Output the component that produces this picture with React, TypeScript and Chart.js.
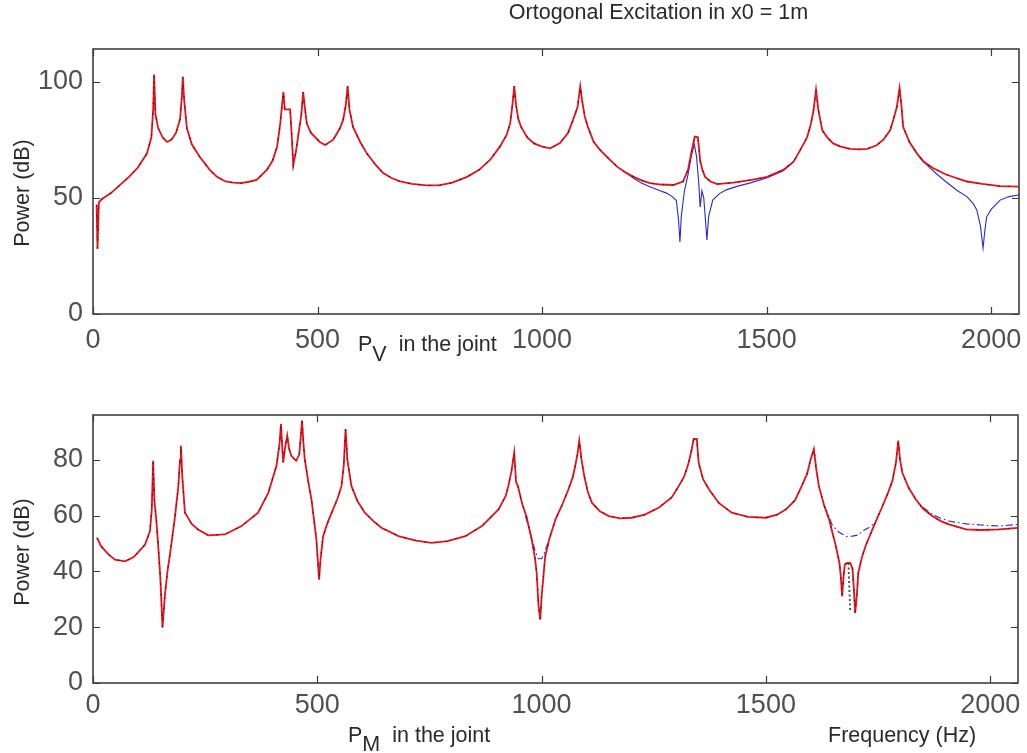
import React, { useEffect, useRef } from "react";
import { Chart, registerables } from "chart.js";

Chart.register(...registerables);

// ---- axis ticks ----
const FREQ_TICKS = [0, 500, 1000, 1500, 2000];
const PV_TICKS = [0, 50, 100];
const PM_TICKS = [0, 20, 40, 60, 80];

// ---- P_V in the joint (upper panel), solid red trace ----
const pvFreq = [
  8, 10, 13, 20, 40, 80, 100, 120, 130, 134, 136, 139, 145, 155, 165, 175, 185, 194, 198, 200,
  203, 209, 220, 238, 260, 276, 295, 312, 330, 350, 365, 387, 400, 410, 417, 421, 424, 427, 433, 439,
  443, 446, 452, 458, 464, 468, 471, 476, 485, 505, 517, 535, 550, 557, 563, 567, 571, 579, 595, 610,
  630, 646, 665, 684, 710, 743, 770, 800, 833, 860, 885, 906, 921, 929, 934, 938, 942, 947, 953, 967,
  982, 1000, 1018, 1040, 1058, 1069, 1079, 1085, 1089, 1095, 1102, 1115, 1129, 1150, 1167, 1185, 1203, 1220, 1240, 1265,
  1292, 1314, 1325, 1333, 1340, 1347, 1352, 1357, 1363, 1375, 1390, 1426, 1470, 1501, 1537, 1560, 1575, 1590, 1597, 1604,
  1610, 1615, 1624, 1635, 1648, 1665, 1686, 1705, 1724, 1745, 1760, 1775, 1782, 1790, 1796, 1800, 1804, 1818, 1835, 1850,
  1871, 1900, 1925, 1946, 1980, 2020, 2062,
];
const pvPower = [
  47, 28, 48, 49.5, 52, 59, 63, 69, 76, 88, 103, 86, 80, 76, 74, 75, 78, 84, 94, 102,
  92, 80, 73, 67.5, 62, 59, 57, 56.5, 56.3, 57, 57.8, 62, 66, 72, 82, 90, 95.5, 88, 88, 88,
  75, 64, 70, 78, 86, 95.5, 90, 82, 78, 74, 72.7, 75, 80, 83.5, 90, 98, 88, 80.5, 74, 69,
  64, 60.6, 58.5, 57, 56, 55.3, 55.3, 56.5, 59, 62, 66.5, 72, 77, 82, 90, 98, 90, 84, 80.6, 76,
  73.4, 72, 71.3, 73.5, 78, 83.5, 89, 98, 92, 85, 80.5, 74, 70.6, 66.5, 63.4, 61, 59.1, 57.6, 56.3, 55.7,
  55.5, 57, 62, 70, 76.3, 76, 66, 62, 59, 57, 55.9, 56.5, 57.8, 59, 62, 65.5, 70.6, 76, 80.5, 87,
  96.4, 88, 79, 76, 73.4, 72, 71, 70.8, 71, 72.6, 75, 79, 83.5, 89, 97.2, 90, 80.5, 74, 69, 65.5,
  62.7, 60, 58.3, 57, 56, 55, 54.8,
];

// ---- P_V, thin blue trace (where it leaves the red one) ----
const pvBlueFreq = [
  1185, 1203, 1220, 1240, 1260, 1277, 1290, 1299, 1304, 1307, 1310, 1317, 1325, 1332, 1339, 1344, 1349, 1352, 1356, 1360,
  1364, 1367, 1371, 1380, 1395, 1410, 1436, 1462, 1500, 1537, 1560, 1700,
  1840, 1860, 1880, 1900, 1925, 1946, 1960, 1968, 1976, 1982, 1986, 1990, 2000, 2020, 2040, 2062,
];
const pvBluePower = [
  61, 58.5, 56.5, 54.7, 53.2, 52, 50.5, 48.8, 40, 31, 42, 53, 60, 67.7, 73, 67.7, 56, 46, 53, 50,
  40, 31.8, 42, 49, 51.8, 53.4, 55, 56.3, 58.5, 61.6, 65.5, null,
  67.5, 63.5, 60, 56.8, 53, 50.5, 47.5, 44.8, 38, 28.4, 36, 41.8, 45, 49, 50.5, 51.2,
];

// ---- P_M in the joint (lower panel), solid red trace ----
const pmFreq = [
  9, 18, 35, 49, 71, 90, 100, 116, 127, 131, 134, 137, 141, 145, 150, 155, 160, 166, 171, 182,
  190, 194, 196, 199, 205, 220, 234, 257, 294, 331, 368, 391, 409, 416, 419, 422, 424, 428, 433, 437,
  442, 453, 460, 463, 466, 469, 472, 480, 487, 493, 498, 501, 504, 507, 513, 522, 532, 545, 554, 559,
  563, 567, 576, 590, 606, 625, 643, 681, 720, 755, 790, 830, 867, 904, 920, 926, 933, 939, 943, 947,
  957, 966, 978, 985, 989, 993, 997, 1000, 1004, 1008, 1018, 1031, 1045, 1060, 1070, 1075, 1080, 1084, 1089, 1095,
  1103, 1112, 1130, 1150, 1175, 1201, 1230, 1261, 1290, 1306, 1318, 1328, 1335, 1339, 1346, 1350, 1360, 1373, 1395, 1424,
  1460, 1500, 1525, 1545, 1565, 1580, 1592, 1600, 1607, 1612, 1618, 1630, 1641, 1656, 1664, 1667, 1670, 1673, 1676, 1682,
  1688, 1693, 1696, 1699, 1703, 1706, 1714, 1722, 1740, 1760, 1772, 1782, 1790, 1795, 1799, 1804, 1818, 1834, 1850, 1871,
  1890, 1908, 1946, 1980, 2020, 2062,
];
const pmPower = [
  52, 49, 46, 44.2, 43.6, 45, 46.7, 49.6, 54.4, 62, 79.6, 65, 58.6, 50, 38, 19.8, 31, 40, 45.4, 58.6,
  70, 80, 85, 74, 61, 57, 55, 52.9, 53.2, 56.2, 61, 68.2, 77.8, 86, 92.8, 84, 79, 84, 88.6, 84,
  81.4, 79.6, 82, 88, 94, 86, 80.2, 72, 65.8, 58, 51.4, 44, 37, 44, 52.6, 57, 61, 66, 70.6, 78,
  91, 80, 70.6, 65, 61, 58, 55.6, 52.6, 51, 50.2, 50.8, 52.6, 56.2, 62.2, 67, 70.6, 76, 82.6, 72, 70.6,
  64, 59.8, 51.4, 45, 39.5, 28, 22.7, 31, 38, 45.4, 52, 58.6, 63.5, 69.4, 74, 77.8, 82, 86.8, 80, 74.2,
  68.5, 64.6, 61.5, 59.8, 59, 59.2, 60.3, 62.8, 66.5, 70.6, 74, 79, 84, 87.4, 87.4, 79, 73, 69.4, 64.5, 61,
  59.5, 59.2, 60.3, 62.2, 65.5, 70.6, 75, 80.2, 83.8, 77, 70.6, 63.5, 58.6, 49, 43, 38, 31, 38, 42.5, 43,
  43, 41, 34, 25, 32, 39.5, 45, 49, 56, 63.4, 68, 72.4, 79, 86.8, 80, 75.4, 70, 65.8, 62.5, 59.8,
  58, 56.8, 55, 54.8, 55, 55.6,
];

// ---- P_M, blue dash-dot trace (where it leaves the red one) ----
const pmBlueFreq = [
  964, 978, 986, 993, 1000, 1006, 1018, 1300,
  1630, 1641, 1648, 1663, 1680, 1693, 1705, 1715, 1728, 1740, 1800,
  1850, 1871, 1890, 1908, 1946, 1980, 2020, 2062,
];
const pmBluePower = [
  59.8, 52, 47, 44.5, 44.5, 46.5, 52, null,
  63.5, 59.5, 56.5, 54, 52.5, 52.6, 53, 54.4, 55.5, 57, null,
  63, 60.4, 59, 58, 57, 56.6, 56.2, 56.8,
];

// ---- P_M, short green dotted drop near 1690 Hz ----
const pmGreenFreq = [1684, 1686, 1688];
const pmGreenPower = [43, 34, 26];

const FONT = "'Liberation Sans', Arial, Helvetica, sans-serif";
const RED = "#e3121c";
const BLUE = "#2a2ad0";

const pts = (xs: number[], ys: (number | null)[]) => xs.map((x, i) => ({ x, y: ys[i] }));

// Box around the plot area with MATLAB-style inward ticks on all four sides
const framePlugin = {
  id: "frameTicks",
  afterDatasetsDraw(chart: any) {
    const { ctx, chartArea: a, scales } = chart;
    const xs = scales.x;
    const ys = scales.y;
    const len = 7;
    ctx.save();
    ctx.strokeStyle = "#3a3a3a";
    ctx.lineWidth = 1.2;
    ctx.beginPath();
    xs.ticks.forEach((t: any) => {
      const px = Math.round(xs.getPixelForValue(t.value)) + 0.5;
      ctx.moveTo(px, a.bottom);
      ctx.lineTo(px, a.bottom - len);
      ctx.moveTo(px, a.top);
      ctx.lineTo(px, a.top + len);
    });
    ys.ticks.forEach((t: any) => {
      const py = Math.round(ys.getPixelForValue(t.value)) + 0.5;
      ctx.moveTo(a.left, py);
      ctx.lineTo(a.left + len, py);
      ctx.moveTo(a.right, py);
      ctx.lineTo(a.right - len, py);
    });
    ctx.stroke();
    ctx.lineWidth = 1.6;
    ctx.strokeStyle = "#404040";
    ctx.strokeRect(a.left, a.top, a.right - a.left, a.bottom - a.top);
    ctx.restore();
  },
};

type PanelProps = {
  top: number;
  height: number;
  padTop: number;
  padRight: number;
  xAxisHeight: number;
  xLabelPad: number;
  yMax: number;
  yTicks: number[];
  datasets: any[];
};

function Panel({ top, height, padTop, padRight, xAxisHeight, xLabelPad, yMax, yTicks, datasets }: PanelProps) {
  const ref = useRef<HTMLCanvasElement | null>(null);
  useEffect(() => {
    if (!ref.current) return;
    const chart = new Chart(ref.current, {
      type: "line",
      data: { datasets },
      plugins: [framePlugin],
      options: {
        responsive: false,
        animation: false,
        events: [],
        layout: { padding: { top: padTop, right: padRight, left: 0, bottom: 0 } },
        plugins: { legend: { display: false }, tooltip: { enabled: false }, title: { display: false } },
        elements: { point: { radius: 0 }, line: { tension: 0 } },
        scales: {
          x: {
            type: "linear",
            min: 0,
            max: 2062,
            afterBuildTicks: (s: any) => {
              s.ticks = FREQ_TICKS.map((v) => ({ value: v }));
            },
            afterFit: (s: any) => {
              s.height = xAxisHeight;
              s.paddingLeft = 0;
              s.paddingRight = 0;
            },
            grid: { display: false, drawTicks: false },
            border: { display: false },
            ticks: {
              autoSkip: false,
              maxRotation: 0,
              padding: xLabelPad,
              color: "#505050",
              font: { family: FONT, size: 27 },
              callback: (v: any) => String(v),
            },
          },
          y: {
            type: "linear",
            min: 0,
            max: yMax,
            afterBuildTicks: (s: any) => {
              s.ticks = yTicks.map((v) => ({ value: v }));
            },
            afterFit: (s: any) => {
              s.width = 93;
              s.paddingTop = 0;
              s.paddingBottom = 0;
            },
            grid: { display: false, drawTicks: false },
            border: { display: false },
            ticks: {
              padding: 10,
              color: "#505050",
              font: { family: FONT, size: 27 },
              callback: (v: any) => String(v),
            },
          },
        },
      },
    });
    return () => chart.destroy();
  }, []);
  return (
    <canvas
      ref={ref}
      width={1027}
      height={height}
      style={{ position: "absolute", left: 0, top, width: 1027, height }}
    />
  );
}

const LABEL_SIZE = 21.5;
const baselineTop = (b: number) => b - 0.8465 * LABEL_SIZE;

const labelStyle: React.CSSProperties = {
  position: "absolute",
  fontFamily: FONT,
  fontSize: LABEL_SIZE,
  lineHeight: 1,
  color: "#2a2a2a",
  whiteSpace: "pre",
};

export default function App() {
  const pvDatasets = [
    {
      label: "black",
      data: pts(pvFreq, pvPower),
      borderColor: "rgba(40,10,10,0.75)",
      borderWidth: 1.2,
      borderDash: [1.5, 9],
      order: 0,
    },
    { label: "red", data: pts(pvFreq, pvPower), borderColor: RED, borderWidth: 1.8, order: 1 },
    {
      label: "blue",
      data: pts(pvBlueFreq, pvBluePower),
      borderColor: BLUE,
      borderWidth: 1.1,
      spanGaps: false,
      order: 2,
    },
  ];
  const pmDatasets = [
    {
      label: "black",
      data: pts(pmFreq, pmPower),
      borderColor: "rgba(40,10,10,0.75)",
      borderWidth: 1.2,
      borderDash: [1.5, 9],
      order: 0,
    },
    {
      label: "green",
      data: pts(pmGreenFreq, pmGreenPower),
      borderColor: "#1f5f2a",
      borderWidth: 1.8,
      borderDash: [2, 2.5],
      order: 0,
    },
    { label: "red", data: pts(pmFreq, pmPower), borderColor: RED, borderWidth: 1.8, order: 1 },
    {
      label: "blue",
      data: pts(pmBlueFreq, pmBluePower),
      borderColor: BLUE,
      borderWidth: 1.1,
      borderDash: [7, 3, 1.5, 3],
      spanGaps: false,
      order: 2,
    },
  ];

  return (
    <div
      style={{
        position: "fixed",
        left: 0,
        top: 0,
        width: 1027,
        height: 753,
        background: "#ffffff",
        overflow: "hidden",
      }}
    >
      <Panel
        top={0}
        height={380}
        padTop={49}
        padRight={8}
        xAxisHeight={66}
        xLabelPad={10}
        yMax={114}
        yTicks={PV_TICKS}
        datasets={pvDatasets}
      />
      <Panel
        top={380}
        height={373}
        padTop={35}
        padRight={9}
        xAxisHeight={70}
        xLabelPad={6}
        yMax={96}
        yTicks={PM_TICKS}
        datasets={pmDatasets}
      />

      <div style={{ ...labelStyle, left: 658.5, top: baselineTop(20), transform: "translateX(-50%)" }}>
        Ortogonal Excitation in x0 = 1m
      </div>

      <div
        style={{
          ...labelStyle,
          left: 22.5,
          top: 193,
          transform: "translate(-50%, -50%) rotate(-90deg)",
        }}
      >
        Power (dB)
      </div>
      <div
        style={{
          ...labelStyle,
          left: 22.5,
          top: 552,
          transform: "translate(-50%, -50%) rotate(-90deg)",
        }}
      >
        Power (dB)
      </div>

      <div style={{ ...labelStyle, left: 358, top: baselineTop(352) }}>
        P<span style={{ position: "relative", top: 10 }}>V</span>
        {"  in the joint"}
      </div>
      <div style={{ ...labelStyle, left: 348, top: baselineTop(743) }}>
        P<span style={{ position: "relative", top: 9 }}>M</span>
        {"  in the joint"}
      </div>
      <div style={{ ...labelStyle, left: 828, top: baselineTop(743) }}>Frequency (Hz)</div>
    </div>
  );
}
